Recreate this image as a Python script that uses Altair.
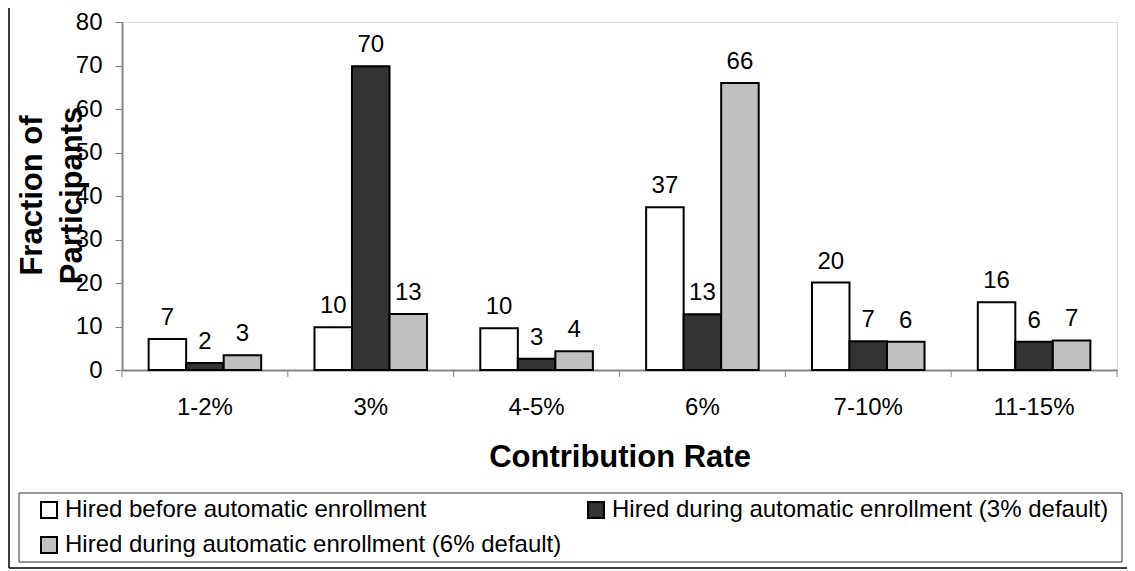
import altair as alt
import pandas as pd

categories = ["1-2%", "3%", "4-5%", "6%", "7-10%", "11-15%"]
series = [
    "Hired before automatic enrollment",
    "Hired during automatic enrollment (3% default)",
    "Hired during automatic enrollment (6% default)",
]
before = [7.1, 9.8, 9.6, 37.4, 20.1, 15.6]
during3 = [1.6, 69.8, 2.6, 12.8, 6.6, 6.5]
during6 = [3.4, 12.9, 4.3, 66.0, 6.5, 6.8]
labels_before = ["7", "10", "10", "37", "20", "16"]
labels_d3 = ["2", "70", "3", "13", "7", "6"]
labels_d6 = ["3", "13", "4", "66", "6", "7"]
colors = ["#ffffff", "#333333", "#c0c0c0"]

rows = []
for s, vals, labs in zip(series, [before, during3, during6], [labels_before, labels_d3, labels_d6]):
    for c, v, l in zip(categories, vals, labs):
        rows.append({"cat": c, "series": s, "value": v, "label": l})
df = pd.DataFrame(rows)
cat_df = pd.DataFrame({"cat": categories})

W, H = 995, 348
TOP = 14
GRAY = "#858585"
FONT = "Liberation Sans"

x_main = alt.X(
    "cat:N", sort=categories,
    scale=alt.Scale(paddingInner=0, paddingOuter=0),
    axis=alt.Axis(
        orient="bottom", ticks=False, tickSize=0, domainColor=GRAY, domainWidth=2,
        labelPadding=25, labelFontSize=24, labelAngle=0, labelColor="black",
        title="Contribution Rate", titleFontSize=31, titleFontWeight="bold",
        titleBaseline="alphabetic", titleY=96, titleX=W / 2, titleColor="black",
    ),
)
x_off = alt.XOffset("series:N", sort=series, scale=alt.Scale(paddingInner=0, paddingOuter=0.71))
y_enc = alt.Y(
    "value:Q",
    scale=alt.Scale(domain=[0, 80], nice=False),
    axis=alt.Axis(
        values=list(range(0, 81, 10)), grid=False, tickSize=7, tickColor=GRAY, tickWidth=1,
        domainColor=GRAY, domainWidth=2, labelPadding=13, labelFontSize=24, labelColor="black",
        title=["Fraction of", "Participants"], titleFontSize=31, titleFontWeight="bold",
        titleAngle=270, titleX=-104.5, titleY=H / 2 - 1, titleBaseline="top", titleAlign="center",
        titleLineHeight=40, titleColor="black",
    ),
)

bars = alt.Chart(df).mark_bar(stroke="black", strokeWidth=2, strokeJoin="miter").encode(
    x=x_main,
    xOffset=x_off,
    y=y_enc,
    fill=alt.Fill(
        "series:N", sort=series,
        scale=alt.Scale(domain=series, range=colors),
        legend=alt.Legend(
            orient="none", legendX=-85, legendY=476, columns=2, columnPadding=22, rowPadding=11,
            direction="horizontal", symbolType="square", symbolSize=256, symbolStrokeColor="black",
            symbolStrokeWidth=2, labelFontSize=24, labelLimit=1000, labelOffset=4, padding=0,
            title=None, labelColor="black",
        ),
    ),
)

texts = alt.Chart(df).mark_text(fontSize=24, baseline="alphabetic", dy=-14, color="black").encode(
    x=alt.X("cat:N", sort=categories),
    xOffset=alt.XOffset("series:N", sort=series),
    y=alt.Y("value:Q"),
    text="label:N",
)

ticks = alt.Chart(cat_df).mark_rule(color=GRAY, strokeWidth=1).encode(
    x=alt.X("cat:N", sort=categories, bandPosition=0),
    y=alt.value(H), y2=alt.value(H + 7),
)
end_tick = alt.Chart(cat_df).transform_filter(
    alt.datum.cat == categories[-1]
).mark_rule(color=GRAY, strokeWidth=1).encode(
    x=alt.X("cat:N", sort=categories, bandPosition=1),
    y=alt.value(H), y2=alt.value(H + 7),
)

box_df = pd.DataFrame({"k": [0]})
legend_box = alt.Chart(box_df).mark_rect(fill="transparent", stroke="#333333", strokeWidth=1).encode(
    x=alt.value(-103), x2=alt.value(1000), y=alt.value(471), y2=alt.value(540),
)
outer_left = alt.Chart(box_df).mark_rule(color="black", strokeWidth=1.5).encode(
    x=alt.value(-113), y=alt.value(-TOP), y2=alt.value(546),
)
outer_bottom = alt.Chart(box_df).mark_rule(color="black", strokeWidth=1.5).encode(
    x=alt.value(-113), x2=alt.value(1005), y=alt.value(546),
)

chart = alt.layer(bars, texts, ticks, end_tick, legend_box, outer_left, outer_bottom).properties(
    width=W, height=H,
    autosize=alt.AutoSizeParams(type="none"),
    padding={"left": 114, "top": TOP, "right": 10, "bottom": 199},
).configure_view(
    stroke=GRAY, strokeWidth=2,
).configure(
    font=FONT,
)

chart.save("out.html", embed_options={"renderer": "svg", "actions": False})
